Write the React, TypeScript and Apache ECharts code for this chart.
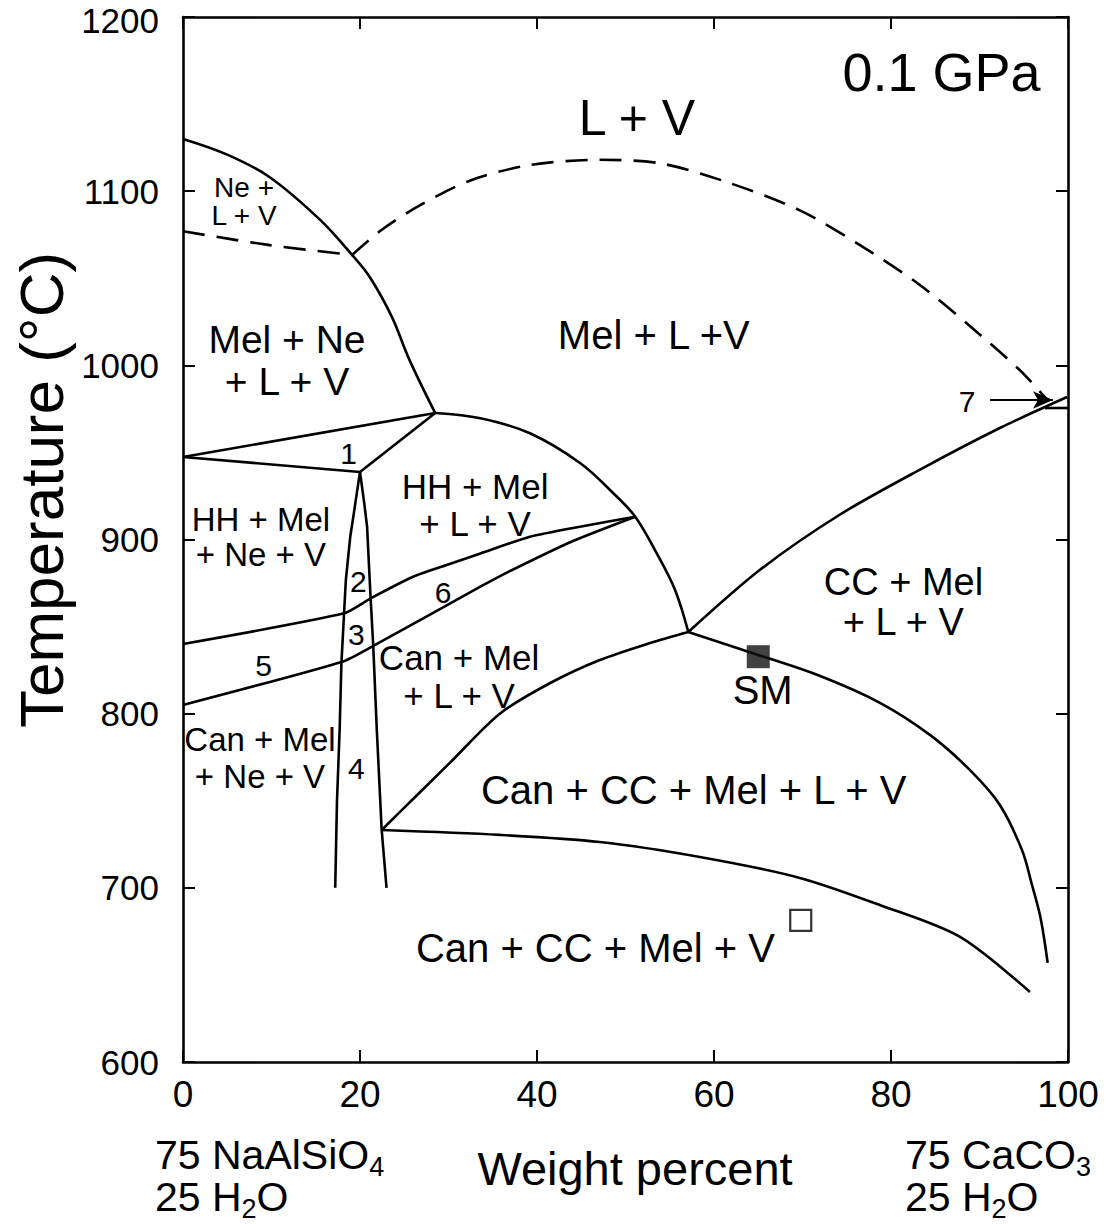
import React, { useEffect, useRef } from 'react';
import * as echarts from 'echarts';

const FONT = '"Liberation Sans", Arial, Helvetica, sans-serif';

// Axis ranges / ticks
const xMin = 0, xMax = 100, xStep = 20;
const yMin = 600, yMax = 1200, yStep = 100;

// ---- Phase boundaries (weight percent, °C) ----
const neLiquidus = [[0, 1130], [5, 1121], [9.8, 1108], [15.5, 1083.5], [19.1, 1063.4], [21.1, 1050.7], [23.6, 1027.8], [25.6, 1003], [28.5, 972.6]];
const neLVDashed = [[0, 1077], [9.8, 1069], [19.1, 1063.4]];
const lvDashed = [[19.1, 1063.4], [22.5, 1078], [26.8, 1092], [32.4, 1106], [39.2, 1115], [47.1, 1118], [53.9, 1116], [61, 1106], [69.7, 1089], [76.5, 1069], [83.3, 1046], [89.5, 1020], [94.6, 997], [97.5, 981]];
const upperTie = [[0, 947.4], [28.5, 972.6]];
const lowerTie = [[0, 947.4], [20, 938.8]];
const junctionTie = [[20, 938.8], [28.5, 972.6]];
const hhLiquidus = [[28.5, 972.6], [33.6, 969.6], [39.2, 961], [44.9, 943.8], [48.6, 926.7], [51.1, 913.1], [53.5, 892.3], [55.6, 871], [57.1, 846.9]];
const line6Upper = [[0, 840], [18.2, 857.6], [21.2, 866.2], [26, 878.6], [29.8, 885.4], [33.6, 892], [39.2, 901.6], [45, 907.5], [51.1, 913.1]];
const line5Lower = [[0, 805], [18.1, 830], [21.5, 838.9], [33.6, 872.9], [36.6, 881], [44, 899], [51.1, 913.1]];
const leftSteep = [[20, 938.8], [19.3, 915], [18.9, 901.6], [18.4, 876.7], [18.2, 857.6], [17.9, 829], [17.7, 790.6], [17.4, 750], [17.2, 700]];
const rightSteep = [[20, 938.8], [20.5, 920], [20.8, 907.4], [21.2, 866.2], [21.5, 838.5], [21.9, 790.6], [22.45, 733.2], [23, 700]];
const canMelLower = [[22.45, 733.2], [26, 751], [30.2, 772], [35.8, 800], [41.5, 817.6], [47.1, 830.8], [52.8, 840.6], [57.1, 846.9]];
const ccLiquidus = [[57.1, 846.9], [65.2, 882.6], [74.2, 914.2], [83.6, 941], [92.3, 964], [99.9, 981.8]];
const shortTie7 = [[97.4, 975.5], [100, 975.5]];
const smCurve = [[57.1, 846.9], [65, 833.7], [72, 821.6], [78.8, 806.1], [84.4, 787.8], [88.9, 767.7], [92.3, 747.6], [94.8, 721.7], [95.9, 702.2], [96.9, 682.7], [97.7, 656.9]];
const solidus = [[22.45, 733.2], [35.8, 730.4], [47.1, 726.3], [58.4, 717.7], [69.7, 705.7], [78.8, 690], [87.8, 671.8], [95.7, 640.2]];

// Arrow for field 7
const arrowFrom = [91.2, 980.1];
const arrowTo = [98.3, 980.1];

// Experimental points
const smPoint = [[65.0, 832.7]];
const openPoint = [[69.8, 681.3]];

// Region labels: [x, T, text, fontSize, lineHeight]
const regionLabels: [number, number, string, number, number][] = [
  [85.7, 1168.4, '0.1 GPa', 54, 56],
  [51.3, 1142, 'L + V', 50, 52],
  [6.9, 1093.8, 'Ne +\nL + V', 28, 28],
  [11.75, 1003, 'Mel + Ne\n+ L + V', 39, 42],
  [53.2, 1017.4, 'Mel + L +V', 40, 42],
  [18.7, 949.5, '1', 30, 30],
  [8.8, 901.4, 'HH + Mel\n+ Ne + V', 33, 35],
  [33.0, 920, 'HH + Mel\n+ L + V', 35, 37],
  [19.8, 875.8, '2', 30, 30],
  [19.6, 845.2, '3', 30, 30],
  [19.6, 768.6, '4', 30, 30],
  [9.1, 827.9, '5', 30, 30],
  [29.4, 869.3, '6', 30, 30],
  [31.2, 821.6, 'Can + Mel\n+ L + V', 35, 38],
  [8.7, 774.3, 'Can + Mel\n+ Ne + V', 33, 37],
  [81.4, 864.1, 'CC + Mel\n+ L + V', 38, 40],
  [88.6, 979, '7', 30, 30],
  [65.5, 813.6, 'SM', 40, 40],
  [57.7, 756.2, 'Can + CC + Mel + L + V', 40, 40],
  [46.6, 665.5, 'Can + CC + Mel + V', 40, 40],
];

const solidLines = [neLiquidus, upperTie, lowerTie, junctionTie, hhLiquidus, line6Upper, line5Lower, leftSteep, rightSteep, canMelLower, ccLiquidus, shortTie7, smCurve, solidus];
const smoothFlags = [0.35, 0, 0, 0, 0.35, 0.2, 0.2, 0, 0, 0.3, 0.3, 0, 0.35, 0.3];
const dashedLines = [neLVDashed, lvDashed];

export default function App() {
  const ref = useRef<HTMLDivElement>(null);
  useEffect(() => {
    document.body.style.margin = '0';
    const chart = echarts.init(ref.current!, null, { renderer: 'svg' });
    const axisLine = { show: true, onZero: false, lineStyle: { color: '#000', width: 2.6 } };
    const axisTick = { show: true, inside: true, length: 12, lineStyle: { color: '#000', width: 2 } };
    const series: any[] = [];
    solidLines.forEach((d, i) => {
      series.push({
        type: 'line', data: d, symbol: 'none', showSymbol: false, smooth: smoothFlags[i],
        lineStyle: { color: '#000', width: 2.6 }, silent: true, z: 3,
      });
    });
    dashedLines.forEach((d) => {
      series.push({
        type: 'line', data: d, symbol: 'none', showSymbol: false, smooth: 0.3,
        lineStyle: { color: '#000', width: 2.6, type: [22, 12] }, silent: true, z: 3,
      });
    });
    series.push({
      type: 'line', data: [], symbol: 'none', silent: true,
      markLine: {
        silent: true, symbol: ['none', 'arrow'], symbolSize: [13, 20],
        label: { show: false },
        lineStyle: { color: '#000', width: 2.2, type: 'solid' },
        data: [[{ coord: arrowFrom }, { coord: arrowTo }]],
      },
    });
    series.push({
      type: 'scatter', data: smPoint, symbol: 'rect', symbolSize: 23,
      itemStyle: { color: '#111' }, silent: true, z: 6,
    });
    series.push({
      type: 'scatter', data: openPoint, symbol: 'rect', symbolSize: 21,
      itemStyle: { color: '#fff', borderColor: '#000', borderWidth: 2.2 }, silent: true, z: 6,
    });
    series.push({
      type: 'custom', silent: true, z: 7,
      data: regionLabels.map((l) => [l[0], l[1]]),
      renderItem: (params: any, api: any) => {
        const p = api.coord([api.value(0), api.value(1)]);
        const l = regionLabels[params.dataIndex];
        return {
          type: 'text', x: p[0], y: p[1],
          style: {
            text: l[2], fontSize: l[3], lineHeight: l[4], fontFamily: FONT,
            fill: '#000', align: 'center', verticalAlign: 'middle',
          },
        };
      },
    });

    const subRich = { sub: { fontSize: 27, lineHeight: 28, padding: [24, 0, 0, 0], fontFamily: FONT, fill: '#000' } };

    chart.setOption({
      animation: false,
      backgroundColor: '#fff',
      grid: { left: 183, right: 51, top: 17, bottom: 162, outerBoundsMode: 'none', containLabel: false },
      xAxis: [
        {
          type: 'value', min: xMin, max: xMax, interval: xStep, position: 'bottom',
          axisLine, axisTick, splitLine: { show: false },
          axisLabel: { color: '#000', fontSize: 37, fontFamily: FONT, margin: 14 },
        },
        {
          type: 'value', min: xMin, max: xMax, interval: xStep, position: 'top',
          axisLine, axisTick, splitLine: { show: false }, axisLabel: { show: false },
        },
      ],
      yAxis: [
        {
          type: 'value', min: yMin, max: yMax, interval: yStep, position: 'left',
          axisLine, axisTick, splitLine: { show: false },
          axisLabel: {
            color: '#000', fontSize: 35, fontFamily: FONT, margin: 24,
            formatter: (v: number) => (v === yMax ? '{top|' + v + '}' : String(v)),
            rich: { top: { fontSize: 35, lineHeight: 35, padding: [6, 0, 0, 0], fontFamily: FONT, color: '#000' } },
          },
        },
        {
          type: 'value', min: yMin, max: yMax, interval: yStep, position: 'right',
          axisLine, axisTick, splitLine: { show: false }, axisLabel: { show: false },
        },
      ],
      graphic: [
        {
          type: 'text', x: 41, y: 490, rotation: Math.PI / 2, silent: true,
          style: { text: 'Temperature (°C)', fontSize: 62, fontFamily: FONT, fill: '#000', align: 'center', verticalAlign: 'middle' },
        },
        {
          type: 'text', x: 635, y: 1168, silent: true,
          style: { text: 'Weight percent', fontSize: 47, fontFamily: FONT, fill: '#000', align: 'center', verticalAlign: 'middle' },
        },
        {
          type: 'text', x: 155, y: 1176, silent: true,
          style: {
            text: '75 NaAlSiO{sub|4}\n25 H{sub|2}O', fontSize: 41, lineHeight: 42, fontFamily: FONT, fill: '#000',
            align: 'left', verticalAlign: 'middle', rich: subRich,
          },
        },
        {
          type: 'text', x: 905, y: 1176, silent: true,
          style: {
            text: '75 CaCO{sub|3}\n25 H{sub|2}O', fontSize: 41, lineHeight: 42, fontFamily: FONT, fill: '#000',
            align: 'left', verticalAlign: 'middle', rich: subRich,
          },
        },
      ],
      series,
    });
    return () => chart.dispose();
  }, []);
  return <div ref={ref} style={{ width: 1119, height: 1224 }} />;
}
